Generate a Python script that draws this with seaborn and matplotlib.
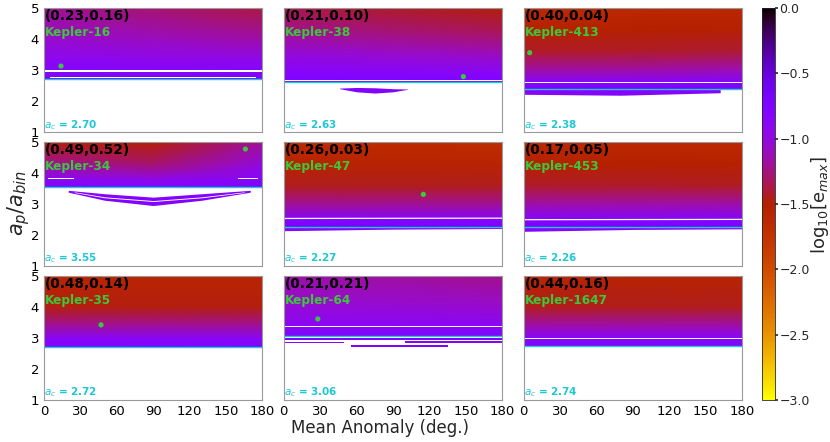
import numpy as np
import pandas as pd
import matplotlib
matplotlib.use('Agg')
import matplotlib.pyplot as plt
import seaborn as sns

# panel info
systems = ['Kepler-16', 'Kepler-38', 'Kepler-413',
           'Kepler-34', 'Kepler-47', 'Kepler-453',
           'Kepler-35', 'Kepler-64', 'Kepler-1647']
ecc_pairs = ['(0.23,0.16)', '(0.21,0.10)', '(0.40,0.04)',
             '(0.49,0.52)', '(0.26,0.03)', '(0.17,0.05)',
             '(0.48,0.14)', '(0.21,0.21)', '(0.44,0.16)']
a_crit = [2.70, 2.63, 2.38, 3.55, 2.27, 2.26, 2.72, 3.06, 2.74]
planet_ma = [14, 148, 5, 166, 115, np.nan, 47, 28, np.nan]
planet_a = [3.13, 2.79, 3.56, 4.77, 3.31, np.nan, 3.42, 3.61, np.nan]

# log10(e_max) field: a_p/a_bin levels and values at MA = 0, 90, 180
field_ma = [0, 90, 180]
field_a = [
    [2.70, 2.95, 3.3, 4.0, 5.0],
    [2.63, 2.9, 3.5, 4.2, 5.0],
    [2.38, 2.6, 3.0, 3.6, 4.3, 5.0],
    [3.55, 3.8, 4.3, 5.0],
    [2.27, 2.5, 3.0, 3.6, 4.3, 5.0],
    [2.26, 2.5, 3.0, 3.6, 4.3, 5.0],
    [2.72, 3.0, 3.5, 4.0, 5.0],
    [3.06, 3.4, 4.0, 5.0],
    [2.74, 3.0, 3.4, 4.0, 5.0],
]
field_left = [
    [-0.72, -0.80, -0.90, -1.05, -1.20],
    [-0.72, -0.82, -1.00, -1.20, -1.35],
    [-0.72, -0.80, -1.15, -1.42, -1.52, -1.62],
    [-0.75, -0.90, -1.20, -1.48],
    [-0.72, -0.80, -1.20, -1.45, -1.55, -1.66],
    [-0.72, -0.80, -1.15, -1.42, -1.52, -1.62],
    [-0.75, -0.88, -1.25, -1.47, -1.58],
    [-0.75, -0.88, -1.02, -1.16],
    [-0.75, -0.85, -1.15, -1.45, -1.57],
]
field_mid = [
    [-0.72, -0.80, -0.92, -1.10, -1.28],
    [-0.72, -0.83, -1.05, -1.26, -1.42],
    [-0.72, -0.80, -1.15, -1.42, -1.52, -1.62],
    [-0.75, -0.95, -1.30, -1.50],
    [-0.72, -0.80, -1.20, -1.45, -1.55, -1.66],
    [-0.72, -0.80, -1.15, -1.42, -1.52, -1.62],
    [-0.75, -0.88, -1.25, -1.47, -1.58],
    [-0.75, -0.88, -1.03, -1.18],
    [-0.75, -0.85, -1.15, -1.45, -1.57],
]
field_right = [
    [-0.72, -0.80, -0.93, -1.15, -1.38],
    [-0.72, -0.85, -1.10, -1.32, -1.48],
    [-0.72, -0.80, -1.12, -1.40, -1.50, -1.60],
    [-0.75, -0.85, -1.00, -1.20],
    [-0.72, -0.80, -1.20, -1.45, -1.56, -1.68],
    [-0.72, -0.80, -1.15, -1.43, -1.53, -1.63],
    [-0.75, -0.88, -1.25, -1.47, -1.58],
    [-0.75, -0.88, -1.05, -1.22],
    [-0.75, -0.85, -1.15, -1.45, -1.57],
]

# extra strips and islands: (MA points, lower edge, upper edge, value); None = white gap
islands = [
    [([0, 180], [2.95, 2.95], [3.00, 3.00], None),
     ([5, 175], [2.76, 2.76], [2.78, 2.78], None)],
    [([46, 60, 75, 90, 102], [2.40, 2.30, 2.26, 2.30, 2.38], [2.42, 2.44, 2.43, 2.40, 2.39], -0.78),
     ([0, 180], [2.655, 2.655], [2.67, 2.67], None)],
    [([0, 180], [2.57, 2.57], [2.61, 2.61], None),
     ([0, 80, 162], [2.22, 2.19, 2.27], [2.38, 2.38, 2.38], -0.80)],
    [([20, 50, 90, 130, 170], [3.38, 3.12, 2.95, 3.12, 3.38], [3.44, 3.33, 3.22, 3.33, 3.44], -0.78),
     ([25, 50, 90, 130, 165], [3.37, 3.20, 3.08, 3.20, 3.37], [3.39, 3.23, 3.11, 3.23, 3.39], None),
     ([3, 25], [3.82, 3.82], [3.85, 3.85], None),
     ([160, 176], [3.82, 3.82], [3.84, 3.84], None)],
    [([0, 180], [2.53, 2.54], [2.57, 2.58], None),
     ([0, 90, 180], [2.14, 2.19, 2.21], [2.27, 2.27, 2.27], -0.80)],
    [([0, 180], [2.49, 2.50], [2.53, 2.54], None),
     ([0, 90, 180], [2.12, 2.18, 2.20], [2.26, 2.26, 2.26], -0.80)],
    [([0, 180], [2.99, 2.99], [3.01, 3.01], None)],
    [([0, 180], [3.36, 3.36], [3.39, 3.39], None),
     ([0, 180], [2.94, 2.94], [3.00, 3.00], -0.75),
     ([0, 50], [2.83, 2.83], [2.88, 2.88], -0.80),
     ([100, 180], [2.85, 2.85], [2.90, 2.90], -0.80),
     ([55, 135], [2.72, 2.72], [2.78, 2.78], -0.72)],
    [([0, 180], [2.97, 2.97], [3.01, 3.01], None),
     ([30, 140], [2.70, 2.70], [2.74, 2.74], -0.80)],
]

cbar_ticks = [-3.0, -2.5, -2.0, -1.5, -1.0, -0.5, 0.0]

sns.set_theme(style='white')
plt.rcParams['font.family'] = ['DejaVu Sans']
cmap = plt.get_cmap('gnuplot_r')
norm = matplotlib.colors.Normalize(vmin=-3, vmax=0)
cyan = '#1ec8d4'
green = '#3cc83c'

fig, axes = plt.subplots(3, 3, figsize=(8.3, 4.42), dpi=100)
fig.subplots_adjust(left=0.053, right=0.894, top=0.982, bottom=0.095,
                    wspace=0.098, hspace=0.078)

for k, ax in enumerate(axes.flat):
    C = np.column_stack([field_left[k], field_mid[k], field_right[k]])
    ax.pcolormesh(field_ma, field_a[k], C, shading='gouraud', cmap=cmap, norm=norm)
    for ma, lo, hi, val in islands[k]:
        col = 'white' if val is None else cmap(norm(val))
        ax.fill_between(ma, lo, hi, color=col, lw=0)
    ax.axhline(a_crit[k], color=cyan, lw=1.0)
    if not np.isnan(planet_ma[k]):
        pts = pd.DataFrame({'ma': [planet_ma[k]], 'a': [planet_a[k]]})
        sns.scatterplot(data=pts, x='ma', y='a', ax=ax, color=green, s=14,
                        edgecolor='none', legend=False)
    ax.set_xlim(0, 180)
    ax.set_ylim(1, 5)
    ax.set_xticks(range(0, 181, 30))
    ax.set_yticks([1, 2, 3, 4, 5])
    ax.set_xlabel('')
    ax.set_ylabel('')
    ax.tick_params(length=2.5, width=1.2, colors='black', labelsize=9.5, pad=1)
    r, c = divmod(k, 3)
    if c != 0:
        ax.set_yticklabels([])
    if r != 2:
        ax.set_xticklabels([])
    for s in ax.spines.values():
        s.set_color('#999999')
        s.set_linewidth(0.8)
    ax.text(0.005, 0.99, ecc_pairs[k], transform=ax.transAxes, ha='left', va='top',
            fontsize=9.9, fontweight='bold', color='black')
    ax.text(0.005, 0.855, systems[k], transform=ax.transAxes, ha='left', va='top',
            fontsize=8.7, fontweight='bold', color=green)
    ax.text(0.0, 0.005, r'$a_c$ = %.2f' % a_crit[k], transform=ax.transAxes,
            ha='left', va='bottom', fontsize=7.5, fontweight='bold', color=cyan)

fig.text(0.022, 0.54, r'$a_p/a_{bin}$', rotation=90, ha='center', va='center', fontsize=15)
fig.text(0.458, 0.032, 'Mean Anomaly (deg.)', ha='center', va='center', fontsize=12)

cax = fig.add_axes([0.9175, 0.095, 0.0165, 0.887])
sm = matplotlib.cm.ScalarMappable(norm=norm, cmap=cmap)
cb = fig.colorbar(sm, cax=cax, ticks=cbar_ticks)
cb.ax.tick_params(length=2.5, width=1.2, labelsize=9, pad=0.5)
cb.outline.set_linewidth(0.6)
fig.text(0.988, 0.535, r'log$_{10}$[e$_{max}$]', rotation=90, ha='center', va='center',
         fontsize=13)

fig.savefig('out.png', dpi=100)
